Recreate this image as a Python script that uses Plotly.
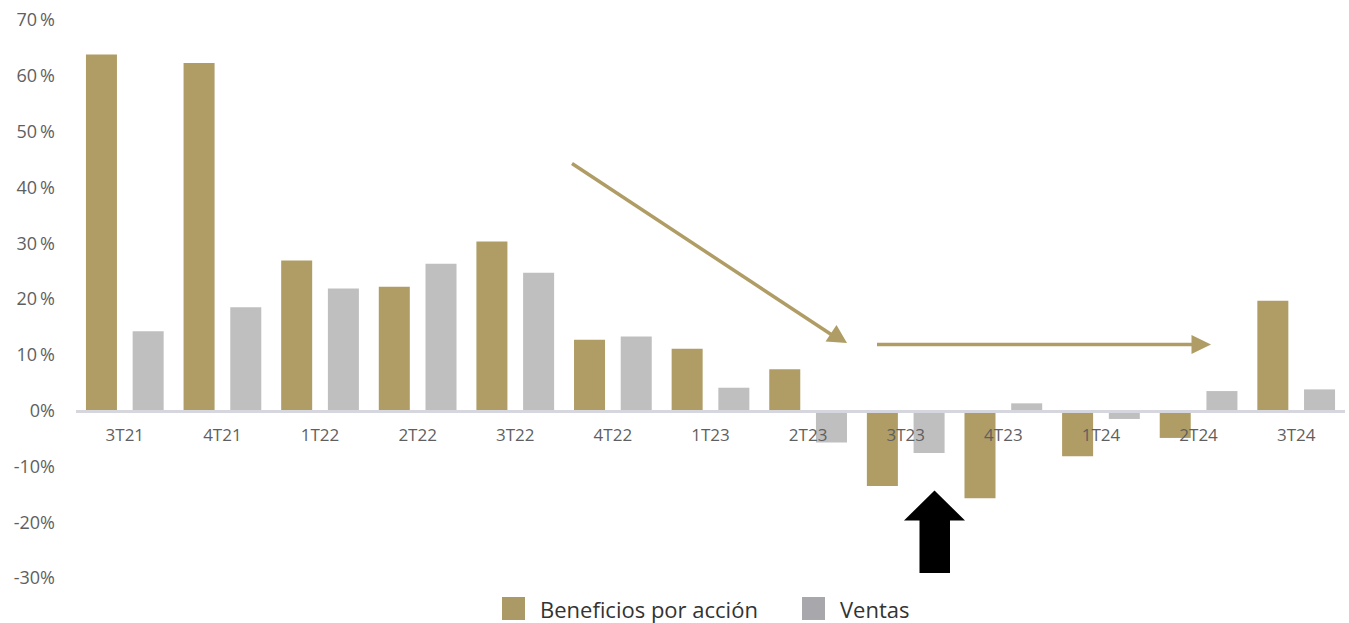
import plotly.graph_objects as go

# Quarterly year-over-year growth (%)
quarters = ["3T21", "4T21", "1T22", "2T22", "3T22", "4T22", "1T23",
            "2T23", "3T23", "4T23", "1T24", "2T24", "3T24"]
eps_growth = [63.8, 62.3, 26.9, 22.2, 30.3, 12.7, 11.1,
              7.4, -13.5, -15.7, -8.2, -4.9, 19.7]
sales_growth = [14.2, 18.5, 21.9, 26.3, 24.7, 13.3, 4.1,
                -5.7, -7.6, 1.3, -1.5, 3.5, 3.8]

series_names = ["Beneficios por acción", "Ventas"]
y_ticks = [70, 60, 50, 40, 30, 20, 10, 0, -10, -20, -30]
y_tick_text = [f"{v}\u2009%" if v > 0 else f"{v}%" for v in y_ticks]

GOLD = "#b09d65"
GREY = "#bfbfbf"
LEG_GOLD = "#ab9a66"
LEG_GREY = "#a8a8ac"

W, H = 1349, 623
ML, MR, MT, MB = 76, 4, 20, 45
PW, PH = W - ML - MR, H - MT - MB
Y_MIN, Y_MAX = -30, 70


def px(x):
    return (x - ML) / PW


def py(y):
    return (H - MB - y) / PH


fig = go.Figure()
fig.add_trace(go.Bar(x=quarters, y=eps_growth, name=series_names[0],
                     marker=dict(color=GOLD, line=dict(width=0))))
fig.add_trace(go.Bar(x=quarters, y=sales_growth, name=series_names[1],
                     marker=dict(color=GREY, line=dict(width=0))))

shapes = []
# Downward-trend arrow
shapes.append(dict(type="line", xref="paper", yref="paper",
                   x0=px(572), y0=py(163.5), x1=px(832), y1=py(335),
                   line=dict(color=GOLD, width=3.5)))
shapes.append(dict(type="path", xref="paper", yref="paper",
                   path=f"M {px(847)} {py(343)} L {px(825.5)} {py(341.5)} "
                        f"L {px(836.5)} {py(325)} Z",
                   fillcolor=GOLD, line=dict(width=0)))
# Flat-trend arrow
shapes.append(dict(type="line", xref="paper", yref="paper",
                   x0=px(877), y0=py(344.5), x1=px(1195), y1=py(344.5),
                   line=dict(color=GOLD, width=3.5)))
shapes.append(dict(type="path", xref="paper", yref="paper",
                   path=f"M {px(1211)} {py(344.5)} L {px(1191.5)} {py(335)} "
                        f"L {px(1191.5)} {py(354)} Z",
                   fillcolor=GOLD, line=dict(width=0)))
# Black block arrow pointing up
shapes.append(dict(type="path", xref="paper", yref="paper",
                   path=(f"M {px(934.5)} {py(490.5)} L {px(965)} {py(520.5)} "
                         f"L {px(950)} {py(520.5)} L {px(950)} {py(573)} "
                         f"L {px(919.5)} {py(573)} L {px(919.5)} {py(520.5)} "
                         f"L {px(904)} {py(520.5)} Z"),
                   fillcolor="#000000", line=dict(width=0)))
# Legend swatches
shapes.append(dict(type="rect", xref="paper", yref="paper",
                   x0=px(502), x1=px(525), y0=py(620), y1=py(597),
                   fillcolor=LEG_GOLD, line=dict(width=0)))
shapes.append(dict(type="rect", xref="paper", yref="paper",
                   x0=px(802), x1=px(825), y0=py(620), y1=py(597),
                   fillcolor=LEG_GREY, line=dict(width=0)))

annotations = [
    dict(text=series_names[0], xref="paper", yref="paper",
         x=px(538), y=py(609), xanchor="left", yanchor="middle",
         showarrow=False, font=dict(size=22, color="#333333")),
    dict(text=series_names[1], xref="paper", yref="paper",
         x=px(838), y=py(609), xanchor="left", yanchor="middle",
         showarrow=False, font=dict(size=22, color="#333333")),
]

zero_pos = (0 - Y_MIN) / (Y_MAX - Y_MIN)

fig.update_layout(
    width=W, height=H,
    margin=dict(l=ML, r=MR, t=MT, b=MB),
    paper_bgcolor="white", plot_bgcolor="white",
    barmode="group", bargap=0.043, bargroupgap=0.336,
    showlegend=False,
    font=dict(family="Open Sans", color="#5f5f5f"),
    shapes=shapes, annotations=annotations,
    xaxis=dict(
        type="category", anchor="free", position=zero_pos,
        showline=True, linecolor="#d6d6de", linewidth=2.5,
        showgrid=False, ticks="", tickfont=dict(size=17, color="#5f5f5f"),
        ticklabelstandoff=8,
    ),
    yaxis=dict(
        range=[Y_MIN, Y_MAX], tickvals=y_ticks, ticktext=y_tick_text,
        showgrid=False, zeroline=False, showline=False, ticks="",
        tickfont=dict(size=18, color="#5f5f5f"), ticklabelstandoff=20,
    ),
)

fig.write_html("out.html")
